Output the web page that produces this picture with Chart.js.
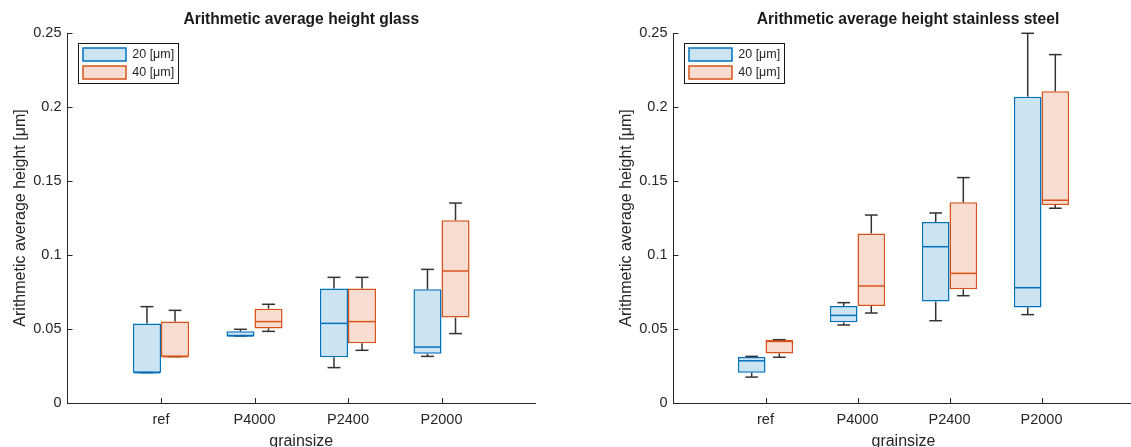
<!DOCTYPE html>
<html>
<head>
<meta charset="utf-8">
<script src="https://cdn.jsdelivr.net/npm/chart.js@4.4.1/dist/chart.umd.min.js"></script>
<style>
  html, body { margin: 0; padding: 0; background: #ffffff; overflow: hidden; }
  #wrap { position: relative; width: 1131px; height: 447px; overflow: hidden; background: #fff; }
  canvas { position: absolute; top: 0; }
  #cGlass { left: 0px; }
  #cSteel { left: 566px; }
</style>
</head>
<body>
<div id="wrap">
  <canvas id="cGlass" width="602" height="447"></canvas>
  <canvas id="cSteel" width="684" height="447"></canvas>
</div>
<script>
// ---------------- data ----------------
const categories = ['ref', 'P4000', 'P2400', 'P2000'];
const seriesLabels = ['20 [\u03bcm]', '40 [\u03bcm]'];
const yTickLabels = ['0', '0.05', '0.1', '0.15', '0.2', '0.25'];
const titles = ['Arithmetic average height glass', 'Arithmetic average height stainless steel'];
const yAxisTitle = 'Arithmetic average height [\u03bcm]';
const xAxisTitle = 'grainsize';

// [min, q1, median, q3, max] per category
const glass20 = [
  [0.0205, 0.0205, 0.0205, 0.0538, 0.0651],
  [0.0453, 0.0453, 0.0453, 0.0484, 0.0498],
  [0.0239, 0.0309, 0.0538, 0.0773, 0.0849],
  [0.0315, 0.0333, 0.0378, 0.0768, 0.0903]
];
const glass40 = [
  [0.0313, 0.0313, 0.0313, 0.0550, 0.0626],
  [0.0484, 0.0504, 0.0550, 0.0637, 0.0667],
  [0.0356, 0.0403, 0.0550, 0.0773, 0.0849],
  [0.0469, 0.0577, 0.0892, 0.1234, 0.1351]
];
const steel20 = [
  [0.0175, 0.0205, 0.0285, 0.0310, 0.0315],
  [0.0527, 0.0545, 0.0592, 0.0655, 0.0678],
  [0.0556, 0.0685, 0.1056, 0.1223, 0.1284],
  [0.0597, 0.0646, 0.0779, 0.2070, 0.2498]
];
const steel40 = [
  [0.0309, 0.0334, 0.0416, 0.0428, 0.0428],
  [0.0608, 0.0655, 0.0791, 0.1146, 0.1270],
  [0.0725, 0.0768, 0.0876, 0.1356, 0.1523],
  [0.1316, 0.1338, 0.1370, 0.2106, 0.2354]
];

// ---------------- style ----------------
const FONT = '"Liberation Sans", Arial, Helvetica, sans-serif';
const AXIS_COLOR = '#262626';
const WHISKER_COLOR = '#333333';
const BLUE = '#0072BD', BLUE_FILL = '#CCE3F2';
const ORANGE = '#D95319', ORANGE_FILL = '#F7DDD1';
Chart.defaults.font.family = FONT;

const boxWhiskerPlugin = {
  id: 'boxWhiskers',
  afterDatasetsDraw(chart) {
    const ctx = chart.ctx;
    const yS = chart.scales.y;
    ctx.save();
    const line = (x1, y1, x2, y2) => { ctx.beginPath(); ctx.moveTo(x1, y1); ctx.lineTo(x2, y2); ctx.stroke(); };
    chart.data.datasets.forEach((ds, i) => {
      const meta = chart.getDatasetMeta(i);
      meta.data.forEach((bar, j) => {
        const s = ds.stats[j];
        const half = bar.width / 2;
        const cap = bar.width * 0.23;
        const yMin = yS.getPixelForValue(s[0]);
        const yQ1 = yS.getPixelForValue(s[1]);
        const yMed = yS.getPixelForValue(s[2]);
        const yQ3 = yS.getPixelForValue(s[3]);
        const yMax = yS.getPixelForValue(s[4]);
        ctx.lineWidth = 1.5;
        ctx.strokeStyle = WHISKER_COLOR;
        line(bar.x, yQ3, bar.x, yMax);
        line(bar.x - cap, yMax, bar.x + cap, yMax);
        line(bar.x, yQ1, bar.x, yMin);
        line(bar.x - cap, yMin, bar.x + cap, yMin);
        ctx.strokeStyle = ds.borderColor;
        line(bar.x - half + 0.75, yMed, bar.x + half - 0.75, yMed);
      });
    });
    ctx.restore();
  }
};

const inwardTicksPlugin = {
  id: 'inwardTicks',
  afterDraw(chart) {
    const ctx = chart.ctx;
    const a = chart.chartArea;
    const xS = chart.scales.x, yS = chart.scales.y;
    ctx.save();
    ctx.strokeStyle = AXIS_COLOR;
    ctx.lineWidth = 1;
    yS.ticks.forEach(t => {
      const y = Math.round(yS.getPixelForValue(t.value)) + 0.5;
      ctx.beginPath(); ctx.moveTo(a.left, y); ctx.lineTo(a.left + 5, y); ctx.stroke();
    });
    categories.forEach((c, i) => {
      const x = Math.round(xS.getPixelForValue(i + 1)) + 0.5;
      ctx.beginPath(); ctx.moveTo(x, a.bottom); ctx.lineTo(x, a.bottom - 5); ctx.stroke();
    });
    // legend frame
    const lg = chart.legend;
    if (lg) {
      ctx.strokeStyle = '#1a1a1a';
      ctx.strokeRect(Math.round(lg.left) + 0.5, Math.round(lg.top) + 0.5, 100, 40);
    }
    ctx.restore();
  }
};

const placePlugin = {
  id: 'place',
  afterLayout(chart, args, opts) {
    const lg = chart.legend;
    if (lg) {
      lg.left = chart.chartArea.left + 10.5;
      lg.top = chart.chartArea.top + 10;
    }
    const tb = chart.titleBlock;
    if (tb && opts.titleShift) {
      tb.left += opts.titleShift;
      tb.right += opts.titleShift;
    }
  }
};

function makeChart(id, title, s20, s40, geo) {
  const mk = (stats, label, fill, border) => ({
    label: label,
    data: categories.map((c, i) => ({ x: i + 1, y: [stats[i][1], stats[i][3]] })),
    stats: stats,
    backgroundColor: fill,
    borderColor: border,
    borderWidth: 1.5,
    borderSkipped: false,
    categoryPercentage: 0.6,
    barPercentage: 1.0
  });
  return new Chart(document.getElementById(id), {
    type: 'bar',
    data: {
      datasets: [
        mk(s20, seriesLabels[0], BLUE_FILL, BLUE),
        mk(s40, seriesLabels[1], ORANGE_FILL, ORANGE)
      ]
    },
    options: {
      responsive: false,
      animation: false,
      devicePixelRatio: 1,
      events: [],
      layout: { padding: { left: 0, right: geo.padRight, top: 0, bottom: 0 } },
      plugins: {
        tooltip: { enabled: false },
        place: { titleShift: geo.titleShift },
        title: {
          display: true, text: title, fullSize: false,
          font: { size: 15.6, weight: 'bold', family: FONT },
          color: '#1a1a1a',
          padding: { top: 10, bottom: 4.28 }
        },
        legend: {
          display: true, position: 'chartArea', align: 'start',
          labels: {
            boxWidth: 43, boxHeight: 13, padding: 5,
            font: { size: 12.5, family: FONT }, color: AXIS_COLOR
          }
        }
      },
      scales: {
        x: {
          type: 'linear', min: 0, max: 5, offset: false,
          grid: { display: false, drawTicks: false, tickLength: 0, offset: false },
          border: { display: true, color: AXIS_COLOR, width: 1 },
          ticks: {
            stepSize: 1, autoSkip: false, maxRotation: 0, padding: 8,
            color: AXIS_COLOR, font: { size: 14.5, family: FONT },
            callback: (v) => categories[v - 1] !== undefined ? categories[v - 1] : ''
          },
          title: {
            display: true, text: xAxisTitle, color: AXIS_COLOR,
            font: { size: 16, family: FONT }, padding: { top: 0, bottom: -4.5 }
          },
          afterFit: (s) => { s.height = 44; }
        },
        y: {
          type: 'linear', min: 0, max: 0.25,
          grid: { display: false, drawTicks: false, tickLength: 0 },
          border: { display: true, color: AXIS_COLOR, width: 1 },
          ticks: {
            stepSize: 0.05, padding: 6, color: AXIS_COLOR,
            font: { size: 14.5, family: FONT },
            callback: (v, i) => yTickLabels[i]
          },
          title: {
            display: true, text: yAxisTitle, color: AXIS_COLOR,
            font: { size: 16, family: FONT }, padding: { top: geo.yTitlePad, bottom: 0 }
          },
          afterFit: (s) => { s.width = geo.yAxisWidth; }
        }
      }
    },
    plugins: [boxWhiskerPlugin, inwardTicksPlugin, placePlugin]
  });
}

makeChart('cGlass', titles[0], glass20, glass40, { yAxisWidth: 67.5, padRight: 67, yTitlePad: 11.4, titleShift: 0 });
makeChart('cSteel', titles[1], steel20, steel40, { yAxisWidth: 107.5, padRight: 116.5, yTitlePad: 50.9, titleShift: 4.5 });
</script>
</body>
</html>
